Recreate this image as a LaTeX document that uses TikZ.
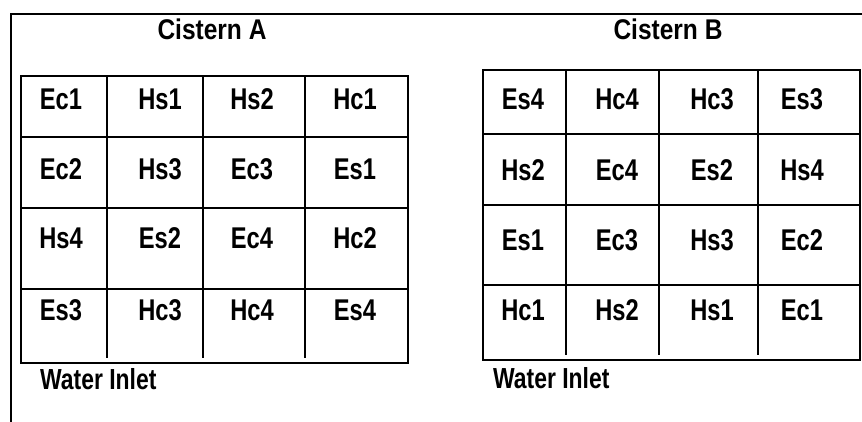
\documentclass[tikz,border=0pt]{standalone}
\usepackage{fontspec}
\setmainfont{Liberation Sans}[FakeStretch=0.79]
\newfontfamily\titlefont{Liberation Sans}[FakeStretch=0.86]
\tikzset{
  frameline/.style={line width=2.2pt, black},
  gridline/.style={line width=2.8pt, black},
  cell/.style={anchor=base, inner sep=0pt, font=\bfseries\fontsize{30}{32}\selectfont},
  title/.style={anchor=base, inner sep=0pt, font=\titlefont\bfseries\fontsize{28.5}{30}\selectfont},
  inlet/.style={anchor=base west, inner sep=0pt, font=\bfseries\fontsize{29}{30}\selectfont},
}
\begin{document}
\begin{tikzpicture}[x=1pt, y=-1pt]
\useasboundingbox (0,0) rectangle (862,422);

% outer frame: top and left edges only
\draw[frameline] (11,422) -- (11,14) -- (862,14);

% ---- Cistern A grid ----
\draw[gridline] (21,76) rectangle (408,363);
\foreach \y in {137,208,289} \draw[gridline] (21,\y) -- (408,\y);
\foreach \x in {107,203,305} \draw[gridline] (\x,76) -- (\x,358);

% ---- Cistern B grid ----
\draw[gridline] (483,70) rectangle (860,360);
\foreach \y in {134,205,285} \draw[gridline] (483,\y) -- (860,\y);
\foreach \x in {566,659,758} \draw[gridline] (\x,70) -- (\x,355);

% titles
\node[title] (titleA) at (212,40) {Cistern A};
\node[title] (titleB) at (668,40) {Cistern B};

% cell labels, Cistern A
\foreach \y/\labs [count=\r] in {98.5/{Ec1,Hs1,Hs2,Hc1}, 169/{Ec2,Hs3,Ec3,Es1},
                                 238/{Hs4,Es2,Ec4,Hc2}, 309.5/{Es3,Hc3,Hc4,Es4}} {
  \foreach \lab [count=\c] in \labs {
    \pgfmathsetmacro\xx{{61,160,252,355}[\c-1]}
    \node[cell] (A-\r-\c) at (\xx,\y+10.8) {\lab};
  }
}

% cell labels, Cistern B
\foreach \y/\labs [count=\r] in {99/{Es4,Hc4,Hc3,Es3}, 170/{Hs2,Ec4,Es2,Hs4},
                                 240/{Es1,Ec3,Hs3,Ec2}, 310/{Hc1,Hs2,Hs1,Ec1}} {
  \foreach \lab [count=\c] in \labs {
    \pgfmathsetmacro\xx{{523,617,712,802}[\c-1]}
    \node[cell] (B-\r-\c) at (\xx,\y+10.8) {\lab};
  }
}

% inlet labels
\node[inlet] (inletA) at (40,389) {Water Inlet};
\node[inlet] (inletB) at (493,388) {Water Inlet};
\end{tikzpicture}
\end{document}
